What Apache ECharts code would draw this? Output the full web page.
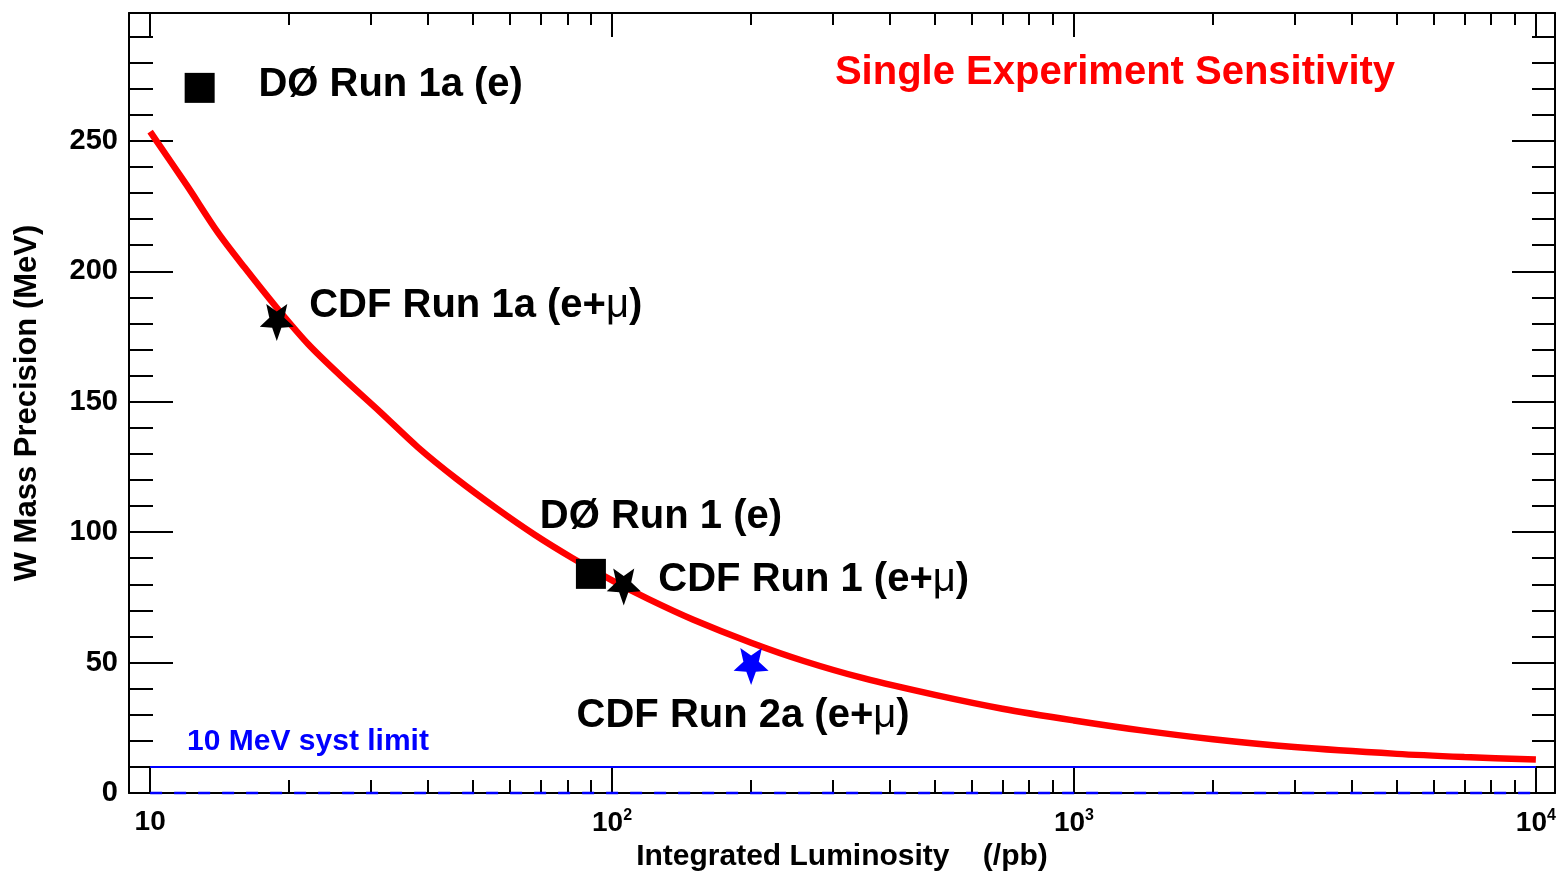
<!DOCTYPE html>
<html>
<head>
<meta charset="utf-8">
<script src="https://cdn.jsdelivr.net/npm/echarts@6/dist/echarts.min.js"></script>
<style>html,body{margin:0;padding:0;background:#fff}#c{width:1567px;height:874px}</style>
</head>
<body>
<div id="c"></div>
<script>
// ---- data ----
const curveLumi = [10, 12, 14, 16, 18.8, 22, 26, 31.5, 38, 46, 56.3, 68, 82, 100, 120, 150, 200, 260, 350, 500, 700, 1000, 1400, 2000, 3000, 5000, 7000, 10000];
const curvePrecision = [253.5, 233, 215, 201.5, 186, 172, 159.5, 146, 132.5, 120.5, 109, 99, 90.1, 81.5, 74.3, 66.4, 57.6, 50.6, 44.0, 37.6, 32.3, 27.8, 24.0, 20.6, 17.6, 15.0, 13.8, 12.8];

const measNames = ['DØ Run 1a (e)', 'CDF Run 1a (e+μ)', 'DØ Run 1 (e)', 'CDF Run 1 (e+μ)', 'CDF Run 2a (e+μ)'];
const measLumi = [12.8, 18.8, 90, 106, 200];
const measPrecision = [270.3, 180.4, 84, 79, 48.5];
const measKind = ['square', 'star', 'square', 'star', 'bluestar'];

const systLimit = 10;
const lineStart = 10, lineEnd = 10000;

const xMajorTicks = [10, 100, 1000, 10000];
const xMinorTicks = [20, 30, 40, 50, 60, 70, 80, 90, 200, 300, 400, 500, 600, 700, 800, 900, 2000, 3000, 4000, 5000, 6000, 7000, 8000, 9000];
const yLabelStep = 50;

const xTitle = 'Integrated Luminosity    (/pb)';
const yTitle = 'W Mass Precision (MeV)';
const plotTitle = 'Single Experiment Sensitivity';
const systText = '10 MeV syst limit';

// ---- styles ----
const FONT = '"Liberation Sans", Arial, Helvetica, sans-serif';
const tickLine = { color: '#000', width: 2 };
const STAR = 'path://M50,100 L37.1,67.8 L2.45,65.45 L29.1,43.2 L20.6,9.55 L50,28 L79.4,9.55 L70.9,43.2 L97.55,65.45 L62.9,67.8 Z';

const labelOffsets = [[191, -3], [199, -16], [70, -57], [190, -7], [-8, 49]];

function xFmt(v) {
  const p = Math.round(Math.log10(v));
  return p === 1 ? '10' : '10{sup|' + p + '}';
}
function nameFmt(s) {
  return s.replace('μ', '{mu|μ}');
}

const baseX = { type: 'log', logBase: 10, min: 9, max: 11000, splitLine: { show: false }, minorSplitLine: { show: false } };
const baseY = { type: 'value', min: 0, max: 299, interval: yLabelStep, splitLine: { show: false }, minorSplitLine: { show: false } };

function measSeries(kind, symbol, size, color) {
  const data = [];
  measNames.forEach((n, i) => {
    if (measKind[i] !== kind) return;
    data.push({
      value: [measLumi[i], measPrecision[i]],
      name: n,
      label: {
        show: true, position: 'inside', offset: labelOffsets[i],
        formatter: nameFmt(n), color: '#000', fontSize: 40, fontWeight: 'bold', fontFamily: FONT, opacity: 1,
        rich: { mu: { fontSize: 40, fontWeight: 'normal', fontFamily: FONT, color: '#000' } }
      }
    });
  });
  return {
    type: 'scatter', xAxisIndex: 0, yAxisIndex: 0, symbol: symbol, symbolSize: size,
    itemStyle: { color: color, opacity: 1 }, data: data, z: 6, silent: true, clip: false
  };
}

const chart = echarts.init(document.getElementById('c'), null, { renderer: 'canvas' });
chart.setOption({
  animation: false,
  backgroundColor: '#fff',
  grid: { left: 129, top: 13, right: 12, bottom: 81, containLabel: false, outerBoundsMode: 'none' },
  xAxis: [
    Object.assign({}, baseX, {
      position: 'bottom',
      axisLine: { show: true, lineStyle: tickLine },
      axisTick: { show: true, inside: true, length: 26, customValues: xMajorTicks, lineStyle: tickLine },
      axisLabel: {
        customValues: xMajorTicks, formatter: xFmt, margin: 15, color: '#000',
        fontSize: 28, fontWeight: 'bold', fontFamily: FONT,
        rich: { sup: { fontSize: 16, fontFamily: FONT, color: '#000', verticalAlign: 'top', padding: [0, 0, 14, 0] } }
      },
      name: xTitle, nameLocation: 'middle', nameGap: 49,
      nameTextStyle: { color: '#000', fontSize: 30, fontWeight: 'bold', fontFamily: FONT }
    }),
    Object.assign({}, baseX, {
      position: 'bottom', axisLine: { show: false },
      axisTick: { show: true, inside: true, length: 13, customValues: xMinorTicks, lineStyle: tickLine },
      axisLabel: { show: false }
    }),
    Object.assign({}, baseX, {
      position: 'top', axisLine: { show: true, lineStyle: tickLine },
      axisTick: { show: true, inside: true, length: 24, customValues: xMajorTicks, lineStyle: tickLine },
      axisLabel: { show: false }
    }),
    Object.assign({}, baseX, {
      position: 'top', axisLine: { show: false },
      axisTick: { show: true, inside: true, length: 12, customValues: xMinorTicks, lineStyle: tickLine },
      axisLabel: { show: false }
    })
  ],
  yAxis: [
    Object.assign({}, baseY, {
      position: 'left',
      axisLine: { show: true, lineStyle: tickLine },
      axisTick: { show: true, inside: true, length: 44, lineStyle: tickLine },
      minorTick: { show: true, splitNumber: 5, length: 24, lineStyle: tickLine },
      axisLabel: {
        formatter: v => (v % yLabelStep === 0 ? String(v) : ''), margin: 11, color: '#000',
        fontSize: 29, fontWeight: 'bold', fontFamily: FONT
      },
      name: yTitle, nameLocation: 'middle', nameGap: 86, nameRotate: 90,
      nameTextStyle: { color: '#000', fontSize: 31, fontWeight: 'bold', fontFamily: FONT }
    }),
    Object.assign({}, baseY, {
      position: 'right',
      axisLine: { show: true, lineStyle: tickLine },
      axisTick: { show: true, inside: true, length: 43, lineStyle: tickLine },
      minorTick: { show: true, splitNumber: 5, length: 23, lineStyle: tickLine },
      axisLabel: { show: false }
    })
  ],
  graphic: [
    { type: 'text', x: 1115, y: 73, silent: true,
      style: { text: plotTitle, fill: '#ff0000', font: 'bold 40px ' + FONT, textAlign: 'center', textVerticalAlign: 'middle', align: 'center', verticalAlign: 'middle' } },
    { type: 'text', x: 308, y: 742, silent: true,
      style: { text: systText, fill: '#0000ff', font: 'bold 30px ' + FONT, textAlign: 'center', textVerticalAlign: 'middle', align: 'center', verticalAlign: 'middle' } }
  ],
  series: [
    { type: 'line', xAxisIndex: 0, yAxisIndex: 0, data: [[lineStart, 0], [lineEnd, 0]], symbol: 'none', clip: false, silent: true, z: 10,
      lineStyle: { color: '#0000ff', width: 2.5, type: [12, 12], opacity: 1 } },
    { type: 'line', xAxisIndex: 0, yAxisIndex: 0, data: [[lineStart, systLimit], [lineEnd, systLimit]], symbol: 'none', silent: true, z: 3,
      lineStyle: { color: '#0000ff', width: 2 } },
    { type: 'line', xAxisIndex: 0, yAxisIndex: 0, data: curveLumi.map((l, i) => [l, curvePrecision[i]]), symbol: 'none',
      smooth: 0.3, silent: true, z: 4, clip: false,
      lineStyle: { color: '#ff0000', width: 6.5, cap: 'butt' } },
    measSeries('square', 'rect', 30, '#000'),
    measSeries('star', STAR, [34, 37], '#000'),
    measSeries('bluestar', STAR, [35, 37], '#0000ff')
  ]
});
</script>
</body>
</html>
